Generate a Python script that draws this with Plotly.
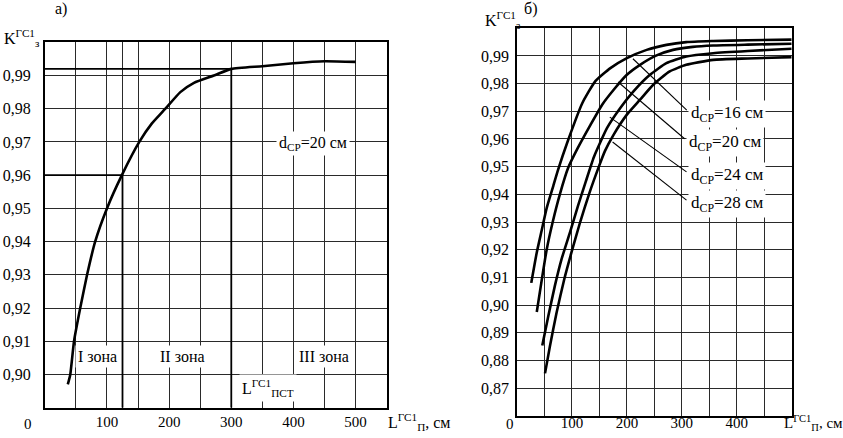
import plotly.graph_objects as go

W, H = 843, 438

# ---- panel a) : d_cp = 20 cm ----
a_L = [37, 41, 47, 57, 68, 81, 100, 124, 152, 172, 194, 218, 240, 272, 300, 350, 400, 450, 500]
a_K = [0.897, 0.900, 0.910, 0.920, 0.930, 0.940, 0.950, 0.960, 0.970, 0.9755, 0.980,
       0.985, 0.9878, 0.990, 0.992, 0.9928, 0.9937, 0.9943, 0.9941]
a_L_zone1 = 125      # border I / II zone
a_K_zone1 = 0.96
a_L_pst = 300        # border II / III zone (L_pst)
a_K_pst = 0.992
a_xticks = [100, 200, 300, 400, 500]
a_yticks = [0.90, 0.91, 0.92, 0.93, 0.94, 0.95, 0.96, 0.97, 0.98, 0.99]

# ---- panel b) : four diameters ----
b_L16 = [26, 36, 45, 54, 66, 75, 92, 119, 143, 170, 200, 236, 272, 308, 357, 420, 500]
b_K16 = [0.908, 0.919, 0.927, 0.935, 0.943, 0.949, 0.959, 0.973, 0.981, 0.9856, 0.9892,
         0.9922, 0.994, 0.995, 0.9954, 0.9957, 0.9959]
b_L20 = [36, 45, 54, 65, 78, 93, 110, 134, 155, 176, 200, 224, 254, 284, 320, 357, 420, 500]
b_K20 = [0.8975, 0.909, 0.920, 0.930, 0.940, 0.9495, 0.9565, 0.9652, 0.9724, 0.9778, 0.9832,
         0.9868, 0.9902, 0.9922, 0.9933, 0.9938, 0.9941, 0.9944]
b_L24 = [46, 57, 69, 81, 96, 111, 125, 140, 164, 188, 212, 242, 272, 308, 357, 420, 500]
b_K24 = [0.8854, 0.896, 0.907, 0.9165, 0.926, 0.9358, 0.9445, 0.9535, 0.964, 0.9712, 0.9772,
         0.9832, 0.9874, 0.9898, 0.991, 0.9918, 0.9926]
b_L28 = [51, 60, 72, 86, 99, 115, 131, 149, 160, 176, 200, 224, 248, 278, 308, 357, 420, 500]
b_K28 = [0.8753, 0.8852, 0.8972, 0.9093, 0.9189, 0.930, 0.940, 0.950, 0.9556, 0.9616,
         0.9688, 0.9742, 0.9796, 0.9844, 0.9868, 0.9886, 0.9891, 0.9896]
b_diam = [16, 20, 24, 28]
# leader lines: start on curve, end at label
b_lead_L0 = [211, 184, 169, 174]
b_lead_K0 = [0.9890, 0.9806, 0.9679, 0.9589]
b_lead_L1 = [309, 305, 308.5, 308.5]
b_lead_K1 = [0.9704, 0.9601, 0.9481, 0.9379]
b_xticks = [100, 200, 300, 400]
b_yticks = [0.87, 0.88, 0.89, 0.90, 0.91, 0.92, 0.93, 0.94, 0.95, 0.96, 0.97, 0.98, 0.99]

FONT = "Liberation Serif"
GRID = "#2a2a2a"


def comma(v):
    return f"{v:.2f}".replace(".", ",")


def px(x):
    return x / W


def py(y):
    return 1 - y / H


fig = go.Figure()
line_main = dict(color="black", width=2.6, shape="spline", smoothing=0.5)

fig.add_trace(go.Scatter(x=a_L, y=a_K, mode="lines", line=line_main,
                         xaxis="x", yaxis="y", showlegend=False))
# reference lines on a)
fig.add_trace(go.Scatter(x=[0, a_L_zone1, a_L_zone1], y=[a_K_zone1, a_K_zone1, 0.89],
                         mode="lines", line=dict(color="black", width=1.8),
                         xaxis="x", yaxis="y", showlegend=False))
fig.add_trace(go.Scatter(x=[0, a_L_pst, a_L_pst], y=[a_K_pst, a_K_pst, 0.89],
                         mode="lines", line=dict(color="black", width=1.8),
                         xaxis="x", yaxis="y", showlegend=False))

for xs, ys in [(b_L16, b_K16), (b_L20, b_K20), (b_L24, b_K24), (b_L28, b_K28)]:
    fig.add_trace(go.Scatter(x=xs, y=ys, mode="lines", line=line_main,
                             xaxis="x2", yaxis="y2", showlegend=False))
for i in range(len(b_diam)):
    fig.add_trace(go.Scatter(x=[b_lead_L0[i], b_lead_L1[i]], y=[b_lead_K0[i], b_lead_K1[i]],
                             mode="lines", line=dict(color="black", width=1.1),
                             xaxis="x2", yaxis="y2", showlegend=False))

a_xminor = [v for v in range(50, 551, 50) if v not in a_xticks] + [a_L_zone1]
b_xminor = [v for v in range(50, 501, 50) if v not in b_xticks]

axis_common = dict(showline=True, mirror=True, linecolor="black", linewidth=1.5,
                   showgrid=True, gridcolor=GRID, gridwidth=1.1, zeroline=False,
                   automargin=False, ticks="",
                   tickfont=dict(family=FONT, size=16, color="black"))
minor_grid = dict(showgrid=True, gridcolor=GRID, gridwidth=1.1, ticks="")

fig.update_layout(
    width=W, height=H,
    margin=dict(l=0, r=0, t=0, b=0),
    paper_bgcolor="white", plot_bgcolor="white",
    xaxis=dict(axis_common, domain=[px(44.8), px(386.7)], range=[0, 550],
               tickmode="array", tickvals=a_xticks, ticktext=[str(v) for v in a_xticks],
               minor=dict(minor_grid, tickmode="array", tickvals=a_xminor),
               tickfont=dict(family=FONT, size=15, color="black"),
               ticklabelstandoff=0, anchor="y"),
    yaxis=dict(axis_common, domain=[py(407.7), py(42.3)], range=[0.89, 1.0],
               tickmode="array", tickvals=a_yticks, ticktext=[comma(v) for v in a_yticks],
               ticklabelstandoff=9, anchor="x"),
    xaxis2=dict(axis_common, domain=[px(517), px(791.7)], range=[0, 500],
                tickmode="array", tickvals=b_xticks, ticktext=[str(v) for v in b_xticks],
                minor=dict(minor_grid, tickmode="array", tickvals=b_xminor),
                tickfont=dict(family=FONT, size=15, color="black"),
                ticklabelstandoff=-7, anchor="y2"),
    yaxis2=dict(axis_common, domain=[py(415.7), py(28.3)], range=[0.86, 1.0],
                tickmode="array", tickvals=b_yticks, ticktext=[comma(v) for v in b_yticks],
                ticklabelstandoff=3, anchor="x2"),
)

txt = dict(family=FONT, size=16, color="black")
ann = []


def paper_text(t, x, y, size=16, xanchor="center"):
    ann.append(dict(text=t, x=px(x), y=py(y), xref="paper", yref="paper",
                    xanchor=xanchor, yanchor="middle", showarrow=False,
                    font=dict(family=FONT, size=size, color="black")))


# panel letters
paper_text("а)", 61, 9)
paper_text("б)", 530, 9)
# axis titles
paper_text("K<sup>ГС1</sup><sub>з</sub>", 2, 38, xanchor="left")
paper_text("K<sup>ГС1</sup><sub>з</sub>", 483, 20, xanchor="left")
paper_text("L<sup>ГС1</sup><sub>П</sub>, см", 386, 422, xanchor="left")
paper_text("L<sup>ГС1</sup><sub>П</sub>, см", 782, 423, size=15, xanchor="left")
# origin zeros
paper_text("0", 28, 424, size=15)
paper_text("0", 510, 424, size=15)

# panel a) texts
for t, x, y in [("I зона", 85, 0.9053), ("II зона", 221, 0.9053), ("III зона", 449, 0.9053),
                ("L<sup>ГС1</sup><sub>ПСТ</sub>", 359, 0.8958),
                ("d<sub>СР</sub>=20 см", 432, 0.9695)]:
    ann.append(dict(text=t, x=x, y=y, xref="x", yref="y", xanchor="center", yanchor="middle",
                    showarrow=False, font=txt, bgcolor="white", borderpad=2))
# panel b) labels
for i, d in enumerate(b_diam):
    ann.append(dict(text=f"d<sub>СР</sub>={d} см", x=b_lead_L1[i] + 2, y=b_lead_K1[i] - 0.0015,
                    xref="x2", yref="y2", xanchor="left", yanchor="middle", showarrow=False,
                    font=dict(family=FONT, size=17, color="black"), bgcolor="white", borderpad=2))
fig.update_layout(annotations=ann)

# the page body has a default 8px margin; remove it so the figure fills the window
fig.write_html("out.html", config={"displayModeBar": False},
               post_script="document.body.style.margin='0';")
